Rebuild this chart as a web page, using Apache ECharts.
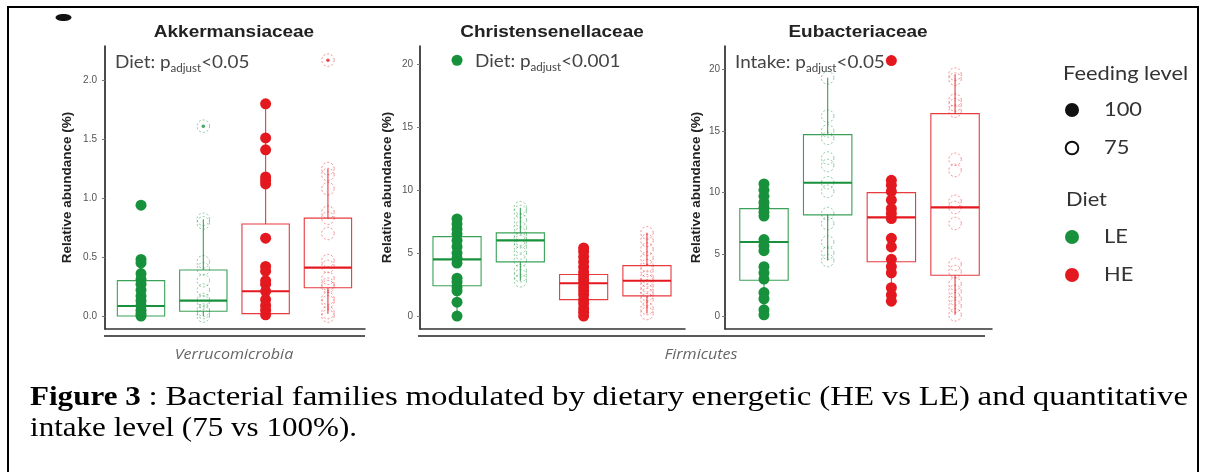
<!DOCTYPE html>
<html><head><meta charset="utf-8">
<script src="https://cdn.jsdelivr.net/npm/echarts@6/dist/echarts.min.js"></script>
<style>html,body{margin:0;padding:0;background:#fff}#c{width:1206px;height:472px}</style>
</head><body><div id="c"></div>
<script>
// ---------- DATA ----------
const panelTitles = ['Akkermansiaceae', 'Christensenellaceae', 'Eubacteriaceae'];
const phyla = ['Verrucomicrobia', 'Firmicutes'];
const groups = ['LE-100', 'LE-75', 'HE-100', 'HE-75'];
const feedingLevels = ['100', '75'];
const diets = ['LE', 'HE'];
const annotationLabels = ['Diet: ', 'Diet: ', 'Intake: '];
const annotationPvalues = ['<0.05', '<0.001', '<0.05'];
const yAxisName = 'Relative abundance (%)';
const yTicksAkk = [0, 0.5, 1.0, 1.5, 2.0];
const yTicksChr = [0, 5, 10, 15, 20];
const yTicksEub = [0, 5, 10, 15, 20];
const captionBold = 'Figure 3';
const captionLine1 = ' : Bacterial families modulated by dietary energetic (HE vs LE) and quantitative';
const captionLine2 = 'intake level (75 vs 100%).';

// Akkermansiaceae points
const akkLE100 = [0.94, 0.48, 0.45, 0.36, 0.31, 0.27, 0.22, 0.17, 0.13, 0.09, 0.05, 0.02, 0.0];
const akkLE75 = [1.61, 0.82, 0.79, 0.46, 0.40, 0.30, 0.22, 0.14, 0.12, 0.05, 0.03, 0.0];
const akkHE100 = [1.80, 1.51, 1.41, 1.18, 1.15, 1.12, 0.66, 0.42, 0.38, 0.30, 0.27, 0.21, 0.14, 0.09, 0.05, 0.01];
const akkHE75 = [2.17, 1.25, 1.20, 1.08, 0.88, 0.83, 0.70, 0.47, 0.42, 0.32, 0.27, 0.25, 0.15, 0.12, 0.03, 0.0];
// boxes: [lower whisker, Q1, median, Q3, upper whisker]
const akkBoxLE100 = [0.0, 0.0, 0.085, 0.30, 0.48];
const akkBoxLE75 = [0.0, 0.04, 0.13, 0.39, 0.82];
const akkBoxHE100 = [0.0, 0.02, 0.21, 0.78, 1.80];
const akkBoxHE75 = [0.02, 0.24, 0.41, 0.83, 1.25];
const akkOutLE100 = [0.94];
const akkOutLE75 = [1.61];
const akkOutHE100 = [];
const akkOutHE75 = [2.17];

// Christensenellaceae points
const chrLE100 = [20.3, 7.7, 7.3, 6.9, 6.5, 6.0, 5.5, 5.0, 4.6, 4.2, 3.0, 2.7, 2.3, 2.0, 1.1, 0.0];
const chrLE75 = [8.6, 8.3, 7.6, 7.0, 6.5, 6.1, 5.9, 5.5, 5.0, 4.4, 3.6, 3.2, 2.8];
const chrHE100 = [5.4, 5.1, 4.7, 4.3, 3.9, 3.5, 3.2, 2.9, 2.6, 2.3, 2.0, 1.7, 1.3, 1.0, 0.6, 0.3, 0.0];
const chrHE75 = [6.6, 6.0, 5.3, 4.6, 4.0, 3.6, 3.1, 2.8, 2.4, 2.0, 1.7, 1.3, 0.6, 0.2];
const chrBoxLE100 = [0.0, 2.4, 4.5, 6.3, 7.7];
const chrBoxLE75 = [2.8, 4.3, 6.0, 6.6, 8.6];
const chrBoxHE100 = [0.0, 1.3, 2.6, 3.3, 5.4];
const chrBoxHE75 = [0.2, 1.6, 2.8, 4.0, 6.6];
const chrOutLE100 = [20.3];
const chrOutLE75 = [];
const chrOutHE100 = [];
const chrOutHE75 = [];

// Eubacteriaceae points
const eubLE100 = [10.7, 10.2, 9.7, 9.2, 8.8, 8.4, 8.1, 6.2, 5.7, 5.3, 4.0, 3.5, 3.0, 1.9, 1.4, 0.5, 0.1];
const eubLE75 = [19.3, 16.2, 15.0, 14.4, 12.8, 12.2, 10.8, 10.1, 8.3, 7.5, 6.0, 5.1, 4.5];
const eubHE100 = [20.7, 11.0, 10.6, 10.1, 9.4, 8.7, 8.3, 7.9, 6.3, 5.6, 4.6, 4.0, 3.5, 2.3, 1.7, 1.2];
const eubHE75 = [19.6, 19.2, 17.5, 17.1, 16.6, 12.7, 11.8, 9.3, 8.8, 7.5, 4.2, 3.6, 2.6, 2.0, 1.4, 0.8, 0.1];
const eubBoxLE100 = [0.1, 2.9, 6.0, 8.7, 10.7];
const eubBoxLE75 = [4.5, 8.2, 10.8, 14.7, 19.3];
const eubBoxHE100 = [1.2, 4.4, 8.0, 10.0, 11.0];
const eubBoxHE75 = [0.1, 3.3, 8.8, 16.4, 19.6];
const eubOutLE100 = [];
const eubOutLE75 = [];
const eubOutHE100 = [20.7];
const eubOutHE75 = [];

// ---------- LAYOUT / STYLE ----------
const GREEN = '#17913b';
const RED = '#e3191f';
const GREEN_A = 'rgba(23,145,59,0.6)';
const RED_A = 'rgba(227,25,31,0.6)';

const panels = [
  { pts: [akkLE100, akkLE75, akkHE100, akkHE75], box: [akkBoxLE100, akkBoxLE75, akkBoxHE100, akkBoxHE75],
    out: [akkOutLE100, akkOutLE75, akkOutHE100, akkOutHE75], ticks: yTicksAkk,
    grid: { left: 105, top: 46, width: 260, height: 283 }, xr: [-0.578, 3.595], yr: [-0.11, 2.29],
    dec: 1, nameGap: 31, lm: 8, title: [234, 32], ann: [115, 62] },
  { pts: [chrLE100, chrLE75, chrHE100, chrHE75], box: [chrBoxLE100, chrBoxLE75, chrBoxHE100, chrBoxHE75],
    out: [chrOutLE100, chrOutLE75, chrOutHE100, chrOutHE75], ticks: yTicksChr,
    grid: { left: 420, top: 46, width: 265, height: 283 }, xr: [-0.585, 3.601], yr: [-1.03, 21.43],
    dec: 0, nameGap: 26, lm: 7, title: [552, 32], ann: [475, 61] },
  { pts: [eubLE100, eubLE75, eubHE100, eubHE75], box: [eubBoxLE100, eubBoxLE75, eubBoxHE100, eubBoxHE75],
    out: [eubOutLE100, eubOutLE75, eubOutHE100, eubOutHE75], ticks: yTicksEub,
    grid: { left: 725, top: 46, width: 267, height: 283 }, xr: [-0.612, 3.58], yr: [-1.05, 21.88],
    dec: 0, nameGap: 22, lm: 5, title: [858, 32], ann: [735, 62] }
];

const grids = [], xAxes = [], yAxes = [], series = [];
panels.forEach((p, pi) => {
  grids.push(Object.assign({ containLabel: false }, p.grid));
  xAxes.push({
    type: 'value', gridIndex: pi, min: p.xr[0], max: p.xr[1],
    axisLine: { show: true, onZero: false, lineStyle: { color: '#333', width: 1.5 } },
    axisTick: { show: false }, axisLabel: { show: false }, splitLine: { show: false }
  });
  yAxes.push({
    type: 'value', gridIndex: pi, min: p.yr[0], max: p.yr[1],
    name: yAxisName, nameLocation: 'middle', nameGap: p.nameGap,
    nameTextStyle: { fontSize: 13.5, fontWeight: 'bold', color: '#222', fontFamily: 'Liberation Sans' },
    axisLine: { show: true, onZero: false, lineStyle: { color: '#111', width: 1.5 } },
    axisTick: { show: true, length: 3, customValues: p.ticks, lineStyle: { color: '#777' } },
    axisLabel: { customValues: p.ticks, color: '#555', fontSize: 10, margin: p.lm, fontFamily: 'Liberation Sans',
      formatter: v => Number(v).toFixed(p.dec) },
    splitLine: { show: false }
  });
  p.pts.forEach((vals, g) => {
    const isHE = g >= 2, filled = g % 2 === 0;
    const col = isHE ? RED : GREEN;
    series.push({
      type: 'scatter', name: groups[g], xAxisIndex: pi, yAxisIndex: pi, z: 2,
      symbol: 'circle', symbolSize: filled ? 11 : 12.5, silent: true,
      itemStyle: filled ? { color: col, opacity: 1 }
        : { color: 'rgba(0,0,0,0)', borderColor: isHE ? RED_A : GREEN_A, borderWidth: 1, borderType: [2, 2] },
      data: vals.map(v => [g, v])
    });
  });
  p.out.forEach((vals, g) => {
    series.push({
      type: 'scatter', xAxisIndex: pi, yAxisIndex: pi, z: 4, symbol: 'circle', symbolSize: 3.5, silent: true,
      itemStyle: { color: g >= 2 ? RED : GREEN }, data: vals.map(v => [g, v])
    });
  });
  series.push({
    type: 'custom', xAxisIndex: pi, yAxisIndex: pi, z: 3, silent: true,
    data: p.box.map((b, g) => [g].concat(b)),
    renderItem: (params, api) => {
      const x = api.value(0);
      const col = x >= 2 ? RED : GREEN;
      const lo = api.coord([x, api.value(1)]), q1 = api.coord([x, api.value(2)]),
        md = api.coord([x, api.value(3)]), q3 = api.coord([x, api.value(4)]), hi = api.coord([x, api.value(5)]);
      const hw = api.size([1, 0])[0] * 0.38;
      const ls = { stroke: col, lineWidth: 1.1, fill: 'none', opacity: 0.85 };
      return { type: 'group', children: [
        { type: 'line', shape: { x1: lo[0], y1: lo[1], x2: q1[0], y2: q1[1] }, style: ls },
        { type: 'line', shape: { x1: q3[0], y1: q3[1], x2: hi[0], y2: hi[1] }, style: ls },
        { type: 'rect', shape: { x: q3[0] - hw, y: q3[1], width: 2 * hw, height: q1[1] - q3[1] }, style: ls },
        { type: 'line', shape: { x1: md[0] - hw, y1: md[1], x2: md[0] + hw, y2: md[1] },
          style: { stroke: col, lineWidth: 2.2 } }
      ] };
    }
  });
});

// ---------- GRAPHICS (text / legend / frame) ----------
const graphic = [];
graphic.push({ type: 'rect', shape: { x: 8, y: 7, width: 1190, height: 520 }, style: { fill: 'none', stroke: '#000', lineWidth: 2 } });
graphic.push({ type: 'ellipse', shape: { cx: 63.5, cy: 17.5, rx: 8, ry: 3.5 }, style: { fill: '#111' } });

panels.forEach((p, pi) => {
  graphic.push({ type: 'text', x: p.title[0], y: p.title[1], scaleX: 1.15,
    style: { text: panelTitles[pi], align: 'center', verticalAlign: 'middle',
      font: 'bold 16.5px "Liberation Sans"', fill: '#222' } });
  graphic.push({ type: 'text', x: p.ann[0], y: p.ann[1], scaleX: 1.05,
    style: { text: '{a|' + annotationLabels[pi] + 'p}{s|adjust}{a|' + annotationPvalues[pi] + '}',
      verticalAlign: 'middle',
      rich: { a: { font: '18px Lato', fill: '#444' }, s: { font: '11px Lato', fill: '#444', verticalAlign: 'bottom', padding: [0, 0, -3, 0] } } } });
});

// facet strips
graphic.push({ type: 'line', shape: { x1: 104, y1: 336, x2: 365, y2: 336 }, style: { stroke: '#222', lineWidth: 1.5 } });
graphic.push({ type: 'line', shape: { x1: 418, y1: 336, x2: 985, y2: 336 }, style: { stroke: '#222', lineWidth: 1.5 } });
graphic.push({ type: 'text', x: 234, y: 355, scaleX: 1.15, style: { text: phyla[0], align: 'center', verticalAlign: 'middle', font: 'italic 14px "Open Sans"', fill: '#666' } });
graphic.push({ type: 'text', x: 701, y: 355, scaleX: 1.15, style: { text: phyla[1], align: 'center', verticalAlign: 'middle', font: 'italic 14px "Open Sans"', fill: '#666' } });

// legend
const LF = '19px Lato';
const LS = 1.15;
graphic.push({ type: 'text', x: 1063, y: 74, scaleX: LS, style: { text: 'Feeding level', verticalAlign: 'middle', font: LF, fill: '#333' } });
graphic.push({ type: 'circle', shape: { cx: 1072, cy: 110, r: 7 }, style: { fill: '#111' } });
graphic.push({ type: 'text', x: 1104, y: 110, scaleX: LS, style: { text: feedingLevels[0], verticalAlign: 'middle', font: LF, fill: '#333' } });
graphic.push({ type: 'circle', shape: { cx: 1072, cy: 148, r: 6.3 }, style: { fill: 'none', stroke: '#111', lineWidth: 2 } });
graphic.push({ type: 'text', x: 1104, y: 148, scaleX: LS, style: { text: feedingLevels[1], verticalAlign: 'middle', font: LF, fill: '#333' } });
graphic.push({ type: 'text', x: 1066, y: 200, scaleX: LS, style: { text: 'Diet', verticalAlign: 'middle', font: LF, fill: '#333' } });
graphic.push({ type: 'circle', shape: { cx: 1072, cy: 237, r: 7 }, style: { fill: GREEN } });
graphic.push({ type: 'text', x: 1104, y: 237, scaleX: LS, style: { text: diets[0], verticalAlign: 'middle', font: LF, fill: '#333' } });
graphic.push({ type: 'circle', shape: { cx: 1072, cy: 275, r: 7 }, style: { fill: RED } });
graphic.push({ type: 'text', x: 1104, y: 275, scaleX: LS, style: { text: diets[1], verticalAlign: 'middle', font: LF, fill: '#333' } });

// caption (first line justified between x=30 and x=1188)
const CF = '27.5px "Liberation Serif", "Times New Roman", serif', CFB = 'bold 27.5px "Liberation Serif", "Times New Roman", serif';
const mctx = document.createElement('canvas').getContext('2d');
const mw = (t, f) => { mctx.font = f; return mctx.measureText(t).width; };
const sx = 327 / mw(captionLine2, CF);
const boldWords = captionBold.split(' ');
const normWords = captionLine1.trim().split(' ');
const sp = mw(' ', CF) * sx;
const boldW = boldWords.reduce((s, w) => s + mw(w, CFB) * sx, 0) + sp * (boldWords.length - 1);
const normNat = normWords.reduce((s, w) => s + mw(w, CF), 0);
const avail = 1188 - 30 - boldW - sp * normWords.length;
const sx1 = avail / normNat;
let cx = 30;
boldWords.forEach(w => {
  graphic.push({ type: 'text', x: cx, y: 397.5, scaleX: sx, style: { text: w, verticalAlign: 'middle', font: CFB, fill: '#000' } });
  cx += mw(w, CFB) * sx + sp;
});
normWords.forEach(w => {
  graphic.push({ type: 'text', x: cx, y: 397.5, scaleX: sx1, style: { text: w, verticalAlign: 'middle', font: CF, fill: '#000' } });
  cx += mw(w, CF) * sx1 + sp;
});
graphic.push({ type: 'text', x: 30, y: 429, scaleX: sx, style: { text: captionLine2, verticalAlign: 'middle', font: CF, fill: '#000' } });

const chart = echarts.init(document.getElementById('c'), null, { renderer: 'canvas' });
chart.setOption({ animation: false, grid: grids, xAxis: xAxes, yAxis: yAxes, series: series, graphic: graphic });
</script></body></html>
